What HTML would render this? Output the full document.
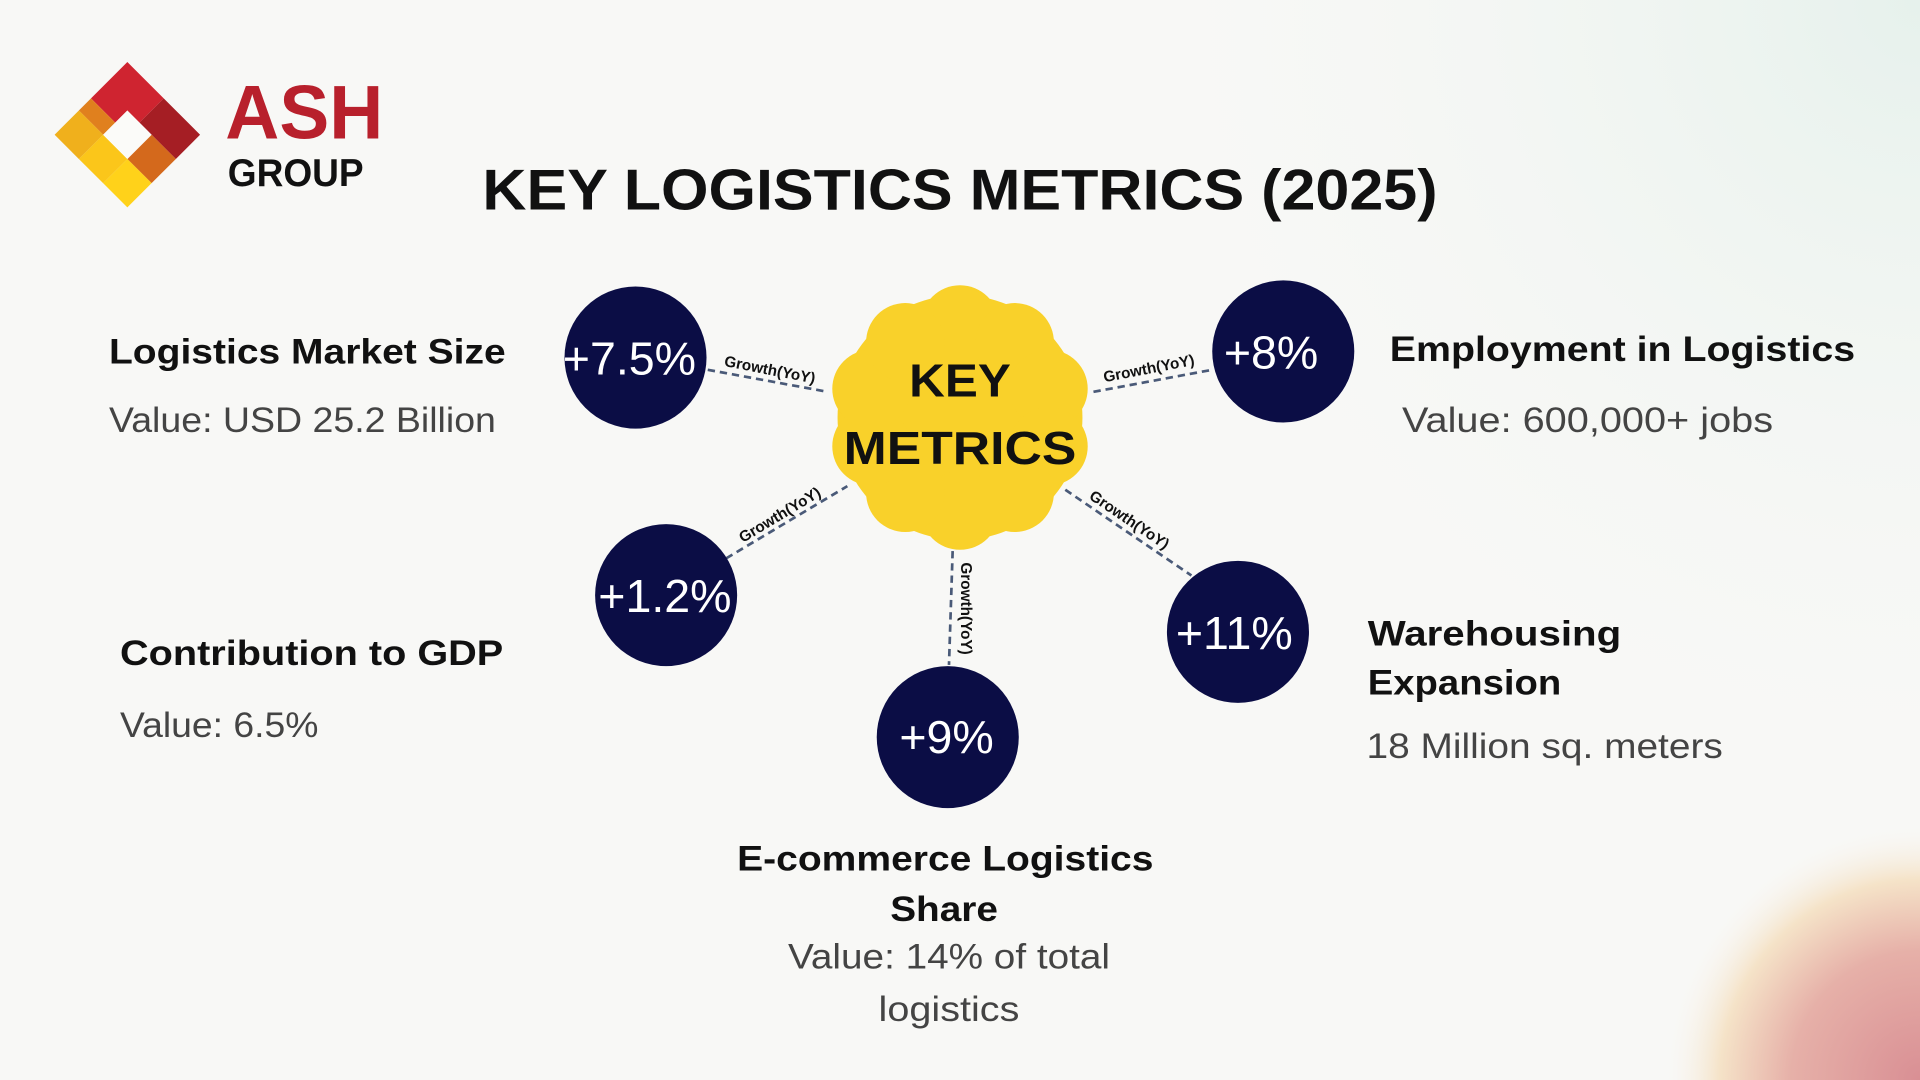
<!DOCTYPE html>
<html><head><meta charset="utf-8"><style>
html,body{margin:0;padding:0;width:1920px;height:1080px;overflow:hidden;background:#f8f8f6}
svg{display:block}
.h{font-family:"Liberation Sans",sans-serif;font-weight:bold;fill:#111}
.v{font-family:"Liberation Sans",sans-serif;fill:#444}
.n{font-family:"Liberation Sans",sans-serif;fill:#fff;text-anchor:middle}
.g{font-family:"Liberation Sans",sans-serif;font-weight:bold;font-size:12.5px;fill:#111;text-anchor:middle}
.d{stroke:#4a5a78;stroke-width:2.2;stroke-dasharray:6 4;fill:none}
</style></head><body>
<svg width="1920" height="1080" viewBox="0 0 1568 882" xmlns="http://www.w3.org/2000/svg">
<defs>
<radialGradient id="pk" cx="1568" cy="882" r="210" gradientUnits="userSpaceOnUse">
<stop offset="0" stop-color="#d98f94"/><stop offset="0.5" stop-color="#e6b0a8"/><stop offset="0.78" stop-color="#f5e3c8"/><stop offset="1" stop-color="#f8f8f6" stop-opacity="0"/>
</radialGradient>
<radialGradient id="mt" cx="1568" cy="0" r="700" gradientUnits="userSpaceOnUse">
<stop offset="0" stop-color="#e6f1ec"/><stop offset="1" stop-color="#f8f8f6" stop-opacity="0"/>
</radialGradient>
</defs>
<rect width="1568" height="882" fill="#f8f8f6"/>
<rect width="1568" height="882" fill="url(#mt)"/>
<rect width="1568" height="882" fill="url(#pk)"/>

<!-- logo -->
<g transform="translate(104,110) rotate(45)">
<polygon points="-42,-42 -42,0 -14,0 -14,-14 0,-14 0,-42" fill="#cf2430"/>
<polygon points="0,-42 42,-42 42,-14 14,-14 0,-14" fill="#a51e24"/>
<polygon points="42,-14 42,14 14,14 14,-14" fill="#d4691c"/>
<polygon points="-42,0 -14,0 -14,14 -42,14" fill="#e0801e"/>
<polygon points="14,14 42,14 42,42 14,42" fill="#ffd21a"/>
<polygon points="-14,14 14,14 14,42 -14,42" fill="#fbc61a"/>
<polygon points="-42,14 -14,14 -14,42 -42,42" fill="#f0b01c"/>
<rect x="-14" y="-14" width="28" height="28" fill="#fbfbf9"/>
</g>
<text x="184" y="113" style="font-family:'Liberation Sans',sans-serif;font-weight:bold;font-size:62px;fill:#b8202c" textLength="129" lengthAdjust="spacingAndGlyphs">ASH</text>
<text x="186" y="152" style="font-family:'Liberation Sans',sans-serif;font-weight:bold;font-size:32px;fill:#111" textLength="111" lengthAdjust="spacingAndGlyphs">GROUP</text>

<text x="784" y="171" class="h" style="font-size:47px;text-anchor:middle" textLength="780" lengthAdjust="spacingAndGlyphs">KEY LOGISTICS METRICS (2025)</text>

<!-- connectors -->
<line class="d" x1="578" y1="302" x2="676" y2="320"/>
<line class="d" x1="893" y1="320" x2="990" y2="302"/>
<line class="d" x1="593" y1="456" x2="692" y2="397"/>
<line class="d" x1="778" y1="450" x2="775" y2="543"/>
<line class="d" x1="870" y1="400" x2="973" y2="470"/>
<text class="g" transform="translate(628,306) rotate(11)">Growth(YoY)</text>
<text class="g" transform="translate(939,305) rotate(-11)">Growth(YoY)</text>
<text class="g" transform="translate(639,424) rotate(-31)">Growth(YoY)</text>
<text class="g" transform="translate(785,497) rotate(90)">Growth(YoY)</text>
<text class="g" transform="translate(920,428) rotate(34)">Growth(YoY)</text>

<!-- star -->
<g fill="#f9d12a" transform="translate(784,341)">
<circle r="100"/>
<circle cx="0" cy="-76" r="32"/><circle cx="44.7" cy="-61.5" r="32"/><circle cx="72.3" cy="-23.5" r="32"/>
<circle cx="72.3" cy="23.5" r="32"/><circle cx="44.7" cy="61.5" r="32"/><circle cx="0" cy="76" r="32"/>
<circle cx="-44.7" cy="61.5" r="32"/><circle cx="-72.3" cy="23.5" r="32"/><circle cx="-72.3" cy="-23.5" r="32"/>
<circle cx="-44.7" cy="-61.5" r="32"/>
</g>
<text x="784" y="324" class="h" style="font-size:38px;text-anchor:middle" textLength="83" lengthAdjust="spacingAndGlyphs">KEY</text>
<text x="784" y="379" class="h" style="font-size:38px;text-anchor:middle" textLength="190" lengthAdjust="spacingAndGlyphs">METRICS</text>

<!-- circles -->
<g fill="#0b0d45">
<circle cx="519" cy="292" r="58"/>
<circle cx="1048" cy="287" r="58"/>
<circle cx="544" cy="486" r="58"/>
<circle cx="774" cy="602" r="58"/>
<circle cx="1011" cy="516" r="58"/>
</g>
<text x="514" y="306" class="n" style="font-size:38px">+7.5%</text>
<text x="1038" y="301" class="n" style="font-size:38px">+8%</text>
<text x="543" y="500" class="n" style="font-size:38px">+1.2%</text>
<text x="773" y="615" class="n" style="font-size:38px">+9%</text>
<text x="1008" y="530" class="n" style="font-size:38px">+11%</text>

<!-- labels -->
<text x="89" y="297" class="h" style="font-size:29px" textLength="324" lengthAdjust="spacingAndGlyphs">Logistics Market Size</text>
<text x="89" y="353" class="v" style="font-size:29px" textLength="316" lengthAdjust="spacingAndGlyphs">Value: USD 25.2 Billion</text>
<text x="1135" y="295" class="h" style="font-size:29px" textLength="380" lengthAdjust="spacingAndGlyphs">Employment in Logistics</text>
<text x="1145" y="353" class="v" style="font-size:29px" textLength="303" lengthAdjust="spacingAndGlyphs">Value: 600,000+ jobs</text>
<text x="98" y="543" class="h" style="font-size:29px" textLength="313" lengthAdjust="spacingAndGlyphs">Contribution to GDP</text>
<text x="98" y="602" class="v" style="font-size:29px" textLength="162" lengthAdjust="spacingAndGlyphs">Value: 6.5%</text>
<text x="1117" y="527" class="h" style="font-size:29px" textLength="207" lengthAdjust="spacingAndGlyphs">Warehousing</text>
<text x="1117" y="567" class="h" style="font-size:29px" textLength="158" lengthAdjust="spacingAndGlyphs">Expansion</text>
<text x="1116" y="619" class="v" style="font-size:29px" textLength="291" lengthAdjust="spacingAndGlyphs">18 Million sq. meters</text>
<text x="772" y="711" class="h" style="font-size:29px;text-anchor:middle" textLength="340" lengthAdjust="spacingAndGlyphs">E-commerce Logistics</text>
<text x="771" y="752" class="h" style="font-size:29px;text-anchor:middle" textLength="88" lengthAdjust="spacingAndGlyphs">Share</text>
<text x="775" y="791" class="v" style="font-size:29px;text-anchor:middle" textLength="263" lengthAdjust="spacingAndGlyphs">Value: 14% of total</text>
<text x="775" y="834" class="v" style="font-size:29px;text-anchor:middle" textLength="115" lengthAdjust="spacingAndGlyphs">logistics</text>
</svg>
</body></html>
